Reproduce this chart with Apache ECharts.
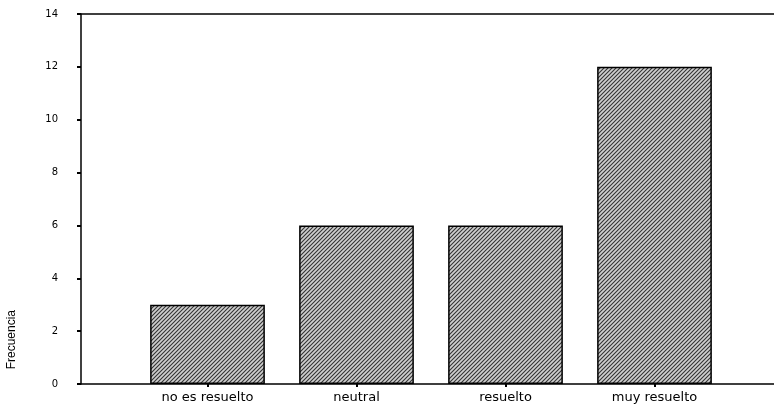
<!DOCTYPE html>
<html>
<head>
<meta charset="utf-8">
<script src="https://cdn.jsdelivr.net/npm/echarts@6/dist/echarts.min.js"></script>
<style>
  html, body { margin: 0; padding: 0; background: #fff; }
  #chart { width: 774px; height: 408px; }
</style>
</head>
<body>
<div id="chart"></div>
<script>
const categories = ["no es resuelto", "neutral", "resuelto", "muy resuelto"];
const frecuencia = [3, 6, 6, 12];
const yTicks = [0, 2, 4, 6, 8, 10, 12, 14];

// hatch fill like the old SPSS bars
function hatch() {
  const c = document.createElement("canvas");
  c.width = 4;
  c.height = 4;
  const ctx = c.getContext("2d");
  ctx.fillStyle = "#cfcfcf";
  ctx.fillRect(0, 0, 4, 4);
  ctx.strokeStyle = "#333";
  ctx.lineWidth = 1.1;
  ctx.beginPath();
  ctx.moveTo(0, 4); ctx.lineTo(4, 0);
  ctx.moveTo(-1, 1); ctx.lineTo(1, -1);
  ctx.moveTo(3, 5); ctx.lineTo(5, 3);
  ctx.stroke();
  return c;
}

const chart = echarts.init(document.getElementById("chart"));
const yMax = yTicks[yTicks.length - 1];

chart.setOption({
  animation: false,
  grid: [
    { left: 81, right: 0, top: 14, bottom: 24 },   // frame + value axis
    { left: 133, right: 45, top: 14, bottom: 24 }  // bars
  ],
  xAxis: [
    {
      gridIndex: 0, type: "value", min: 0, max: 1, position: "bottom",
      axisLine: { show: true, lineStyle: { color: "#000", width: 1.5 } },
      axisTick: { show: false }, axisLabel: { show: false }, splitLine: { show: false }
    },
    {
      gridIndex: 0, type: "value", min: 0, max: 1, position: "top",
      axisLine: { show: true, lineStyle: { color: "#000", width: 1.5 } },
      axisTick: { show: false }, axisLabel: { show: false }, splitLine: { show: false }
    },
    {
      gridIndex: 1, type: "category", data: categories,
      axisLine: { show: false },
      axisTick: { show: true, alignWithLabel: true, length: 3, lineStyle: { color: "#000", width: 2 } },
      axisLabel: {
        color: "#000", fontSize: 13, margin: 7,
        fontFamily: "DejaVu Sans, sans-serif"
      }
    }
  ],
  yAxis: [
    {
      gridIndex: 0, type: "value", min: 0, max: yMax, interval: 2,
      axisLine: { show: true, lineStyle: { color: "#000", width: 1.5 } },
      axisTick: { show: true, length: 4, lineStyle: { color: "#000", width: 2 } },
      axisLabel: {
        color: "#000", fontSize: 10, margin: 23,
        fontFamily: "DejaVu Sans, sans-serif"
      },
      splitLine: { show: false }
    },
    {
      gridIndex: 1, type: "value", min: 0, max: yMax, show: false
    }
  ],
  graphic: [
    {
      type: "text", left: 6, top: 310, rotation: Math.PI / 2,
      style: {
        text: "Frecuencia", fill: "#000", fontSize: 12,
        fontFamily: "Liberation Sans, Arial, sans-serif"
      }
    }
  ],
  series: [
    {
      type: "bar", xAxisIndex: 2, yAxisIndex: 1,
      data: frecuencia,
      barCategoryGap: "23%",
      itemStyle: {
        color: { image: hatch(), repeat: "repeat" },
        borderColor: "#000", borderWidth: 1.5
      }
    }
  ]
});
</script>
</body>
</html>
